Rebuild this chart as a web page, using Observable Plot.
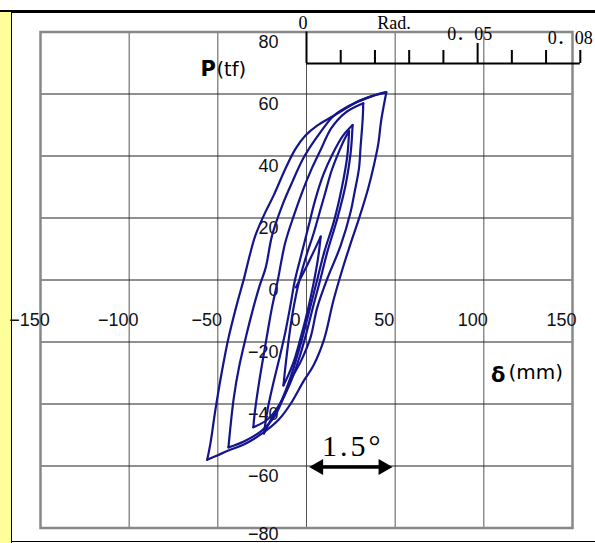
<!DOCTYPE html>
<html><head><meta charset="utf-8">
<script src="https://cdn.jsdelivr.net/npm/d3@7"></script>
<script src="https://cdn.jsdelivr.net/npm/@observablehq/plot@0.6"></script>
<style>
body{margin:0;background:#fff;}
#wrap{position:relative;width:595px;height:543px;overflow:hidden;background:#fff;}
#topline{position:absolute;left:0;top:10px;width:595px;height:2.5px;background:#000;}
#strip{position:absolute;left:0;top:12px;width:10.5px;height:531px;background:#ffff99;border-right:1.5px solid #000;}
#botline{position:absolute;left:11px;top:540.5px;width:584px;height:1.5px;background:#000;}
#chart{position:absolute;left:0;top:0;}
</style></head>
<body>
<div id="wrap"><div id="topline"></div><div id="strip"></div><div id="botline"></div><div id="chart"></div></div>
<script>
// ---- axes / annotation values ----
const xTicks = [-150, -100, -50, 0, 50, 100, 150];
const yTicks = [-80, -60, -40, -20, 0, 20, 40, 60, 80];
const H = 1930; // mm: drift angle (Rad.) = δ / H
const radMinor = [0.01, 0.02, 0.03, 0.04, 0.06, 0.07, 0.08];
const radMajor = [0.05];
const radZero = [0];
const arrowFrom = 1.5, arrowTo = 48.5, arrowY = -60; // "1.5°" span in mm
// ---- hysteresis branches (δ mm, P tf) ----
const seg0 = [[-6,-2.4],[1,5.5],[8,14]];
const seg1 = [[8,14],[6.5,7],[4,-1],[1,-9],[-3,-18],[-7,-26],[-10.5,-31],[-13,-34]];
const seg2 = [[-13,-34],[-11.5,-26],[-9.5,-17],[-7,-8],[-4,0],[0,8],[4,15],[7.5,22],[10.5,28],[14,35],[18,41],[21.5,45.5],[24,48]];
const seg3 = [[24,48],[23,40],[20,30],[15.5,19],[10,9],[6,0],[2,-9],[-2,-18],[-6,-26],[-10,-33],[-15,-40],[-20,-45],[-24,-49.5]];
const seg4 = [[-24,-49.5],[-22,-42],[-19,-34],[-15.6,-26],[-12,-17],[-9,-8],[-6.5,0],[-3,8],[1,17],[5,26],[9.5,34],[15,41],[20.5,46.5],[26,50]];
const seg5 = [[26,50],[25.5,45],[24.9,41],[22,30.5],[17.3,19.7],[11.7,9],[7.9,0.4],[4,-8],[0,-17],[-4,-25],[-9,-33],[-15,-40],[-22,-45],[-30,-47.5]];
const seg6 = [[-30,-47.5],[-29,-42],[-27,-34],[-25,-27],[-22,-17],[-19.5,-9],[-16.5,-1],[-12,12],[-7,21],[-2,29],[3,36],[8,42],[14,49],[22,54],[32,57]];
const seg7 = [[32,57],[31.7,52],[30.5,43],[29.6,36],[27,28],[24.9,22],[19.2,11],[11.7,0.4],[6,-9],[2.3,-18.5],[-3,-26],[-9,-32.4],[-13,-38],[-18,-44],[-25,-48.5],[-35,-52],[-44,-54]];
const seg8 = [[-44,-54],[-43,-48],[-41,-38],[-38,-28],[-34,-18],[-30,-9],[-26.5,-2],[-23,4],[-19.4,14.4],[-13.7,24],[-8.1,31.5],[-1.5,39.6],[7.9,47.7],[15.4,53],[25,56.5],[35,59],[45,60.5]];
const seg9 = [[45,60.5],[43.5,56],[42,51],[40.5,44],[38,37],[35,30],[30,20.5],[25,12],[20,3],[15,-7],[10,-19],[4,-27.5],[-1.4,-32.4],[-9,-40],[-15.6,-45],[-25,-49.5],[-34.5,-52.8],[-44,-55],[-50,-56.5],[-56,-58]];
const seg10 = [[-56,-58],[-54.2,-52.8],[-51.4,-42],[-47.6,-29.2],[-43.9,-18.5],[-39.2,-7.7],[-35,1],[-32,8],[-28.8,14.4],[-23.2,21.9],[-18.5,27.3],[-11.9,35.9],[-6.2,42.3],[-0.6,46.6],[6,49.8],[15.4,53],[28.6,57.4],[38,59.5],[44.6,60.6]];

const segs = [seg0, seg1, seg2, seg3, seg4, seg5, seg6, seg7, seg8, seg9, seg10];
const rows = segs.flatMap((s, i) => s.map(([x, y]) => ({x, y, seg: i})));
const fmt = d => d < 0 ? "\u2212" + Math.abs(d) : String(d);
const numFont = "'Liberation Sans', Arial, sans-serif";
const wideFont = "'DejaVu Sans', sans-serif";
const serif = "'Liberation Serif', 'Noto Sans CJK JP', serif";

const chart = Plot.plot({
  width: 595, height: 543,
  marginLeft: 40, marginRight: 23, marginTop: 31.5, marginBottom: 15.5,
  x: {domain: [-150, 150], axis: null},
  y: {domain: [-80, 80], axis: null},
  style: {background: "transparent", overflow: "visible", fontFamily: numFont},
  marks: [
    Plot.ruleX(xTicks.slice(1, -1), {stroke: "#555", strokeWidth: 1}),
    Plot.ruleY(yTicks.slice(1, -1), {stroke: "#222", strokeWidth: 1}),
    Plot.frame({stroke: "#888", strokeWidth: 2.5}),
    // Rad. scale
    Plot.ruleY([0], {x1: 0, x2: 0.08 * H, y: 80, dy: 31.5, stroke: "#000", strokeWidth: 2}),
    Plot.ruleX(radZero, {x: d => d * H, insetBottom: 464.5, stroke: "#000", strokeWidth: 2}),
    Plot.ruleX(radMajor, {x: d => d * H, insetTop: 11.5, insetBottom: 464.5, stroke: "#000", strokeWidth: 2}),
    Plot.ruleX(radMinor, {x: d => d * H, insetTop: 18.5, insetBottom: 464.5, stroke: "#000", strokeWidth: 2}),
    Plot.text(["0"], {x: 0, y: 80, text: d => d, dx: -3.5, dy: -3.5, lineAnchor: "bottom", fontFamily: serif, fontSize: 18}),
    Plot.text(["Rad."], {x: 0.025 * H, y: 80, text: d => d, dx: 2, dy: -3.5, lineAnchor: "bottom", fontFamily: serif, fontSize: 18}),
    Plot.text(["0．05"], {x: 0.05 * H, y: 80, text: d => d, dx: -8, dy: 7.5, lineAnchor: "bottom", fontFamily: serif, fontSize: 18}),
    Plot.text(["0．08"], {x: 0.08 * H, y: 80, text: d => d, dx: -10, dy: 11.5, lineAnchor: "bottom", fontFamily: serif, fontSize: 18}),
    // tick labels
    Plot.text(xTicks, {x: d => d, y: 0, text: fmt, dx: -11, dy: 40.5, fontSize: 18, fill: "#111"}),
    Plot.text(yTicks.slice(1), {x: 0, y: d => d, text: fmt, textAnchor: "end", dx: -28, dy: 10, fontSize: 18, fill: "#111"}),
    Plot.text(yTicks.slice(0, 1), {x: 0, y: d => d, text: fmt, textAnchor: "end", dx: -28, dy: 6.5, fontSize: 18, fill: "#111"}),
    // axis titles
    Plot.text(["P"], {frameAnchor: "top-left", text: d => d, textAnchor: "start", lineAnchor: "bottom", dx: 160, dy: 43.5, fontWeight: "bold", fontSize: 21, fontFamily: wideFont}),
    Plot.text(["(tf)"], {frameAnchor: "top-left", text: d => d, textAnchor: "start", lineAnchor: "bottom", dx: 176, dy: 43.5, fontSize: 19.5, fontFamily: wideFont}),
    Plot.text(["δ"], {frameAnchor: "top-left", text: d => d, textAnchor: "start", lineAnchor: "bottom", dx: 450.5, dy: 349.5, fontWeight: "bold", fontSize: 21, fontFamily: wideFont}),
    Plot.text(["(mm)"], {frameAnchor: "top-left", text: d => d, textAnchor: "start", lineAnchor: "bottom", dx: 468, dy: 346.5, fontSize: 20, fontFamily: wideFont}),
    // hysteresis loops
    Plot.line(rows, {x: "x", y: "y", z: "seg", stroke: "#14148c", strokeWidth: 2.2, curve: "catmull-rom"}),
    // 1.5° arrow
    Plot.ruleY([arrowY], {x1: arrowFrom, x2: arrowTo, dy: 1, insetLeft: 8, insetRight: 8, stroke: "#000", strokeWidth: 3.5}),
    Plot.dot([arrowTo], {x: d => d, y: arrowY, dx: -9.3, dy: 1, symbol: "triangle", rotate: 90, r: 6, fill: "#000"}),
    Plot.dot([arrowFrom], {x: d => d, y: arrowY, dx: 9.3, dy: 1, symbol: "triangle", rotate: -90, r: 6, fill: "#000"}),
    Plot.text(["1.5°"], {x: (arrowFrom + arrowTo) / 2, y: arrowY, text: d => d, dx: 2, dy: -10.5, lineAnchor: "bottom", fontFamily: serif, fontSize: 30})
  ]
});
document.getElementById("chart").appendChild(chart);
chart.querySelectorAll("text").forEach(t => { if (t.textContent === "1.5°") t.setAttribute("letter-spacing", "3"); });
</script>
</body></html>
